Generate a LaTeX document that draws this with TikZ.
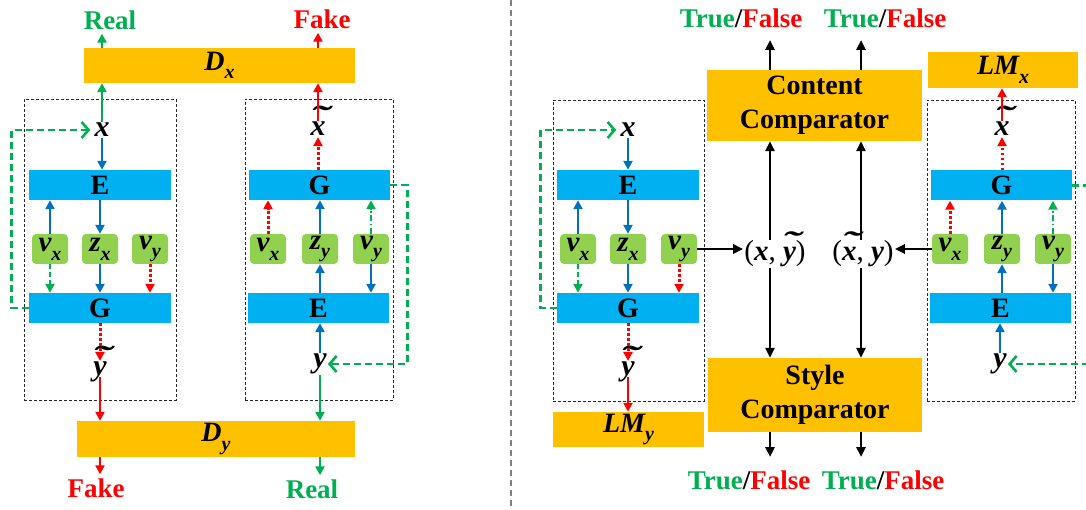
\documentclass[tikz,border=0pt]{standalone}
\usepackage{fontspec}
\setmainfont{Liberation Serif}
\usepackage{graphicx}
\usetikzlibrary{arrows.meta}
\definecolor{gold}{HTML}{FFC000}
\definecolor{cyanb}{HTML}{00B0F0}
\definecolor{lgreen}{HTML}{92D050}
\definecolor{dgreen}{HTML}{00B050}
\definecolor{bblue}{HTML}{0070C0}
\definecolor{rred}{HTML}{FF0000}
\newcommand{\tld}[1]{{\ooalign{#1\cr\hidewidth\kern0.1em\raisebox{0.28em}{\scalebox{1.9}[1.05]{\char"02DC}}\hidewidth\cr}}}
\newcommand{\sbs}[1]{\raisebox{-0.3em}{\fontsize{20}{20}\selectfont #1}}
\begin{document}
\begin{tikzpicture}[x=1pt,y=-1pt,
  goldbox/.style={fill=gold, inner sep=0pt, font=\fontsize{28}{30}\selectfont\bfseries\itshape},
  cyanbox/.style={fill=cyanb, inner sep=0pt, minimum width=141pt, minimum height=30pt, font=\fontsize{28}{28}\selectfont\bfseries},
  gbox/.style={fill=lgreen, rounded corners=4pt, inner sep=0pt, minimum width=36pt, minimum height=30pt, font=\fontsize{29}{29}\selectfont\bfseries\itshape},
  var/.style={inner sep=1pt, font=\fontsize{30}{30}\selectfont\bfseries\itshape},
  pairlbl/.style={inner sep=1pt, font=\fontsize{29}{29}\selectfont},
  lbl/.style={inner sep=0pt, font=\fontsize{27}{27}\selectfont\bfseries},
  cmp/.style={fill=gold, inner sep=0pt, align=center, font=\fontsize{28}{34}\selectfont\bfseries},
  dbox/.style={draw=black!85, line width=0.9pt, dash pattern=on 3pt off 2pt, inner sep=0pt},
  sepline/.style={draw=gray, line width=1.8pt, dash pattern=on 6pt off 4pt},
  tipa/.style={-{Triangle[length=9pt,width=9pt]}},
  bl/.style={tipa, draw=bblue, line width=2.6pt},
  rs/.style={tipa, draw=rred, line width=2.8pt},
  rd/.style={tipa, draw=rred, line width=3pt, dash pattern=on 2.6pt off 2.4pt},
  gs/.style={tipa, draw=dgreen, line width=2.8pt},
  gd/.style={tipa, draw=dgreen, line width=2.8pt, dash pattern=on 5pt off 3pt},
  gdd/.style={tipa, draw=dgreen, line width=2.8pt, dash pattern=on 6pt off 2.5pt on 1.5pt off 2.5pt},
  fb/.style={draw=dgreen, line width=2.8pt, dash pattern=on 7pt off 4pt, -{Straight Barb[length=7pt,width=16pt,line width=2.6pt]}},
  ka/.style={draw=black, line width=2.6pt, -{Triangle[length=10pt,width=9pt]}}
]
\useasboundingbox (0,0) rectangle (1086,510);
\fill[white] (0,0) rectangle (1086,510);
\clip (0,0) rectangle (1086,510);

% ---------- left panel ----------
\node[goldbox, minimum width=271pt, minimum height=35pt] (Dx) at (219.5,65.5) {D\sbs{x}};
\node[goldbox, minimum width=278pt, minimum height=36pt] (Dy) at (216,439) {D\sbs{y}};
\node[lbl,text=dgreen] (realT) at (110,20) {Real};
\node[lbl,text=rred] (fakeT) at (322,19) {Fake};
\node[lbl,text=rred] (fakeB) at (96,488) {Fake};
\node[lbl,text=dgreen] (realB) at (312,489) {Real};
\node[dbox, minimum width=152pt, minimum height=301pt] (box1) at (100,249.5) {};
\node[dbox, minimum width=148pt, minimum height=301pt] (box2) at (319,249.5) {};

\node[cyanbox,minimum width=142pt] (E1) at (100,185) {E};
\node[cyanbox,minimum width=142pt] (G1) at (100,308) {G};
\node[gbox] (vx1) at (50,249) {v\sbs{x}};
\node[gbox] (zx1) at (100,249) {z\sbs{x}};
\node[gbox] (vy1) at (150,249) {v\sbs{y}};
\node[var] (xL) at (102,130) {x};
\node[var] (ytL) at (100,369) {\tld{y}};

\node[cyanbox] (G2) at (319.5,185) {G};
\node[cyanbox] (E2) at (318.5,308) {E};
\node[gbox] (vx2) at (268,249) {v\sbs{x}};
\node[gbox] (zy2) at (320,249) {z\sbs{y}};
\node[gbox] (vy2) at (371,249) {v\sbs{y}};
\node[var] (xtL) at (318,129) {\tld{x}};
\node[var] (yL) at (320,364) {y};

\draw[gs] (xL.north) -- (xL.north |- Dx.south);
\draw[gs, shorten >=4pt] (xL |- Dx.north) -- (xL |- realT.south);
\draw[rs] (xtL.north) -- (xtL.north |- Dx.south);
\draw[rs, shorten >=4pt] (xtL |- Dx.north) -- (xtL |- fakeT.south);
\draw[bl] (xL.south) -- (xL.south |- E1.north);
\draw[bl] (vx1.north) -- (vx1.north |- E1.south);
\draw[bl] (E1.south -| zx1) -- (zx1.north);
\draw[gd] (vx1.south) -- (vx1.south |- G1.north);
\draw[bl] (zx1.south) -- (zx1.south |- G1.north);
\draw[rd] (vy1.south) -- (vy1.south |- G1.north);
\draw[rd] (G1.south -| ytL) -- (ytL.north);
\draw[rs] (ytL.south) -- (ytL.south |- Dy.north);
\draw[rs, shorten >=4pt] (ytL |- Dy.south) -- (ytL |- fakeB.north);
\draw[fb, shorten >=3pt] (G1.west) -- ++(-17,0) |- (xL.west);

\draw[rd] (vx2.north) -- (vx2.north |- G2.south);
\draw[bl] (zy2.north) -- (zy2.north |- G2.south);
\draw[gdd] (vy2.north) -- (vy2.north |- G2.south);
\draw[bl] (E2.north -| zy2) -- (zy2.south);
\draw[bl] (vy2.south) -- (vy2.south |- E2.north);
\draw[bl] (yL.north) -- (yL.north |- E2.south);
\draw[rd] (G2.north -| xtL) -- (xtL.south);
\draw[gs] (yL.south) -- (yL.south |- Dy.north);
\draw[gs, shorten >=4pt] (yL |- Dy.south) -- (yL |- realB.north);
\draw[fb] (G2.east) -- ++(17,0) |- (yL.east);

% separator
\coordinate (s1) at (511,0);
\coordinate (s2) at (511,510);
\draw[sepline] (s1) -- (s2);

% ---------- right panel, left column ----------
\node[dbox, minimum width=151pt, minimum height=301pt] (box3) at (628.5,250.5) {};
\node[cyanbox,minimum width=142pt] (E3) at (628,185) {E};
\node[cyanbox,minimum width=142pt] (G3) at (628,308) {G};
\node[gbox] (vx3) at (578,249) {v\sbs{x}};
\node[gbox] (zx3) at (628,249) {z\sbs{x}};
\node[gbox] (vy3) at (679,249) {v\sbs{y}};
\node[var] (xR) at (628,130) {x};
\node[var] (ytR) at (628,369) {\tld{y}};
\node[goldbox, minimum width=151pt, minimum height=35pt] (LMy) at (628.5,429.5) {LM\sbs{y}};

\draw[bl] (xR.south) -- (xR.south |- E3.north);
\draw[bl] (vx3.north) -- (vx3.north |- E3.south);
\draw[bl] (E3.south -| zx3) -- (zx3.north);
\draw[gd] (vx3.south) -- (vx3.south |- G3.north);
\draw[bl] (zx3.south) -- (zx3.south |- G3.north);
\draw[rd] (vy3.south) -- (vy3.south |- G3.north);
\draw[rd] (G3.south -| ytR) -- (ytR.north);
\draw[rs] (ytR.south) -- (ytR.south |- LMy.north);
\draw[fb, shorten >=3pt] (G3.west) -- ++(-16,0) |- (xR.west);

% ---------- middle ----------
\node[cmp, minimum width=215pt, minimum height=71pt] (CC) at (814.5,105.5) {Content\\Comparator};
\node[cmp, minimum width=214pt, minimum height=74pt] (SC) at (815,395) {Style\\Comparator};
\node[pairlbl] (pair1) at (775,254) {({\bfseries\itshape x}, {\bfseries\itshape\tld{y}})};
\node[pairlbl] (pair2) at (863,254) {({\bfseries\itshape\tld{x}}, {\bfseries\itshape y})};
\node[lbl] (tf1) at (741,18) {\textcolor{dgreen}{True}/\textcolor{rred}{False}};
\node[lbl] (tf2) at (885,18) {\textcolor{dgreen}{True}/\textcolor{rred}{False}};
\node[lbl] (tf3) at (749,480) {\textcolor{dgreen}{True}/\textcolor{rred}{False}};
\node[lbl] (tf4) at (883,480) {\textcolor{dgreen}{True}/\textcolor{rred}{False}};
\coordinate (t1) at (770,40);
\coordinate (t2) at (861,40);
\coordinate (b1) at (770,457);
\coordinate (b2) at (861,457);
\draw[ka] (t1 |- CC.north) -- (t1);
\draw[ka] (t2 |- CC.north) -- (t2);
\draw[ka] (b1 |- SC.south) -- (b1);
\draw[ka] (b2 |- SC.south) -- (b2);
\draw[ka] (t1 |- pair1.north) -- (t1 |- CC.south);
\draw[ka] (t1 |- pair1.south) -- (t1 |- SC.north);
\draw[ka] (t2 |- pair2.north) -- (t2 |- CC.south);
\draw[ka] (t2 |- pair2.south) -- (t2 |- SC.north);

% ---------- right panel, right column ----------
\node[goldbox, minimum width=150pt, minimum height=36pt] (LMx) at (1003,70) {LM\sbs{x}};
\node[dbox, minimum width=148pt, minimum height=301pt] (box4) at (1001,250.5) {};
\node[cyanbox] (G4) at (1001.5,185.5) {G};
\node[cyanbox] (E4) at (1000.5,308) {E};
\node[gbox] (vx4) at (950,249) {v\sbs{x}};
\node[gbox] (zy4) at (1002,249) {z\sbs{y}};
\node[gbox] (vy4) at (1053,249) {v\sbs{y}};
\node[var] (xtR) at (1002,129) {\tld{x}};
\node[var] (yR) at (1000,364) {y};

\draw[rd] (vx4.north) -- (vx4.north |- G4.south);
\draw[bl] (zy4.north) -- (zy4.north |- G4.south);
\draw[gdd] (vy4.north) -- (vy4.north |- G4.south);
\draw[bl] (E4.north -| zy4) -- (zy4.south);
\draw[bl] (vy4.south) -- (vy4.south |- E4.north);
\draw[bl] (yR.north) -- (yR.north |- E4.south);
\draw[rd] (G4.north -| xtR) -- (xtR.south);
\draw[rs] (xtR.north) -- (xtR.north |- LMx.south);
\coordinate (fbR) at (1096,0);
\draw[fb] (G4.east) -- (G4.east -| fbR) |- (yR.east);

\draw[ka] (vy3.east) -- (vy3.east -| pair1.west);
\draw[ka] (vx4.west) -- (vx4.west -| pair2.east);
\end{tikzpicture}
\end{document}
